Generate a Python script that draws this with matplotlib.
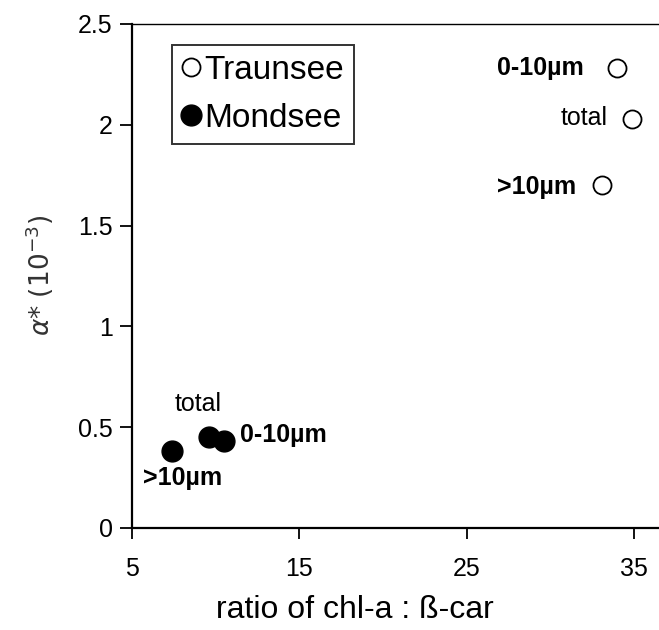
import matplotlib
matplotlib.use("Agg")
import matplotlib.pyplot as plt

plt.rcParams['font.family'] = ['Liberation Sans', 'DejaVu Sans']

# ---------------- data ----------------
labels = ["0-10µm", "total", ">10µm"]
label_bold = [True, False, True]

traunsee_x = [34.0, 34.9, 33.1]
traunsee_y = [2.28, 2.03, 1.70]

mondsee_x = [10.5, 9.6, 7.4]
mondsee_y = [0.43, 0.45, 0.38]

xticks = [5, 15, 25, 35]
yticks = [0, 0.5, 1, 1.5, 2, 2.5]
ytick_labels = ["0", "0.5", "1", "1.5", "2", "2.5"]

# label offsets in pixels (dx, dy, ha)
traunsee_offsets = [(-34, 0, 'right'), (-25, 1, 'right'), (-26, -2, 'right')]
mondsee_offsets = [(16, 6, 'left'), (-11, 33, 'center'), (10, -27, 'center')]

# ---------------- plot ----------------
fig = plt.figure(figsize=(6.59, 6.30), dpi=100)
ax = fig.add_axes([0.2003, 0.162, 0.80, 0.80])

ax.plot(traunsee_x, traunsee_y, 'o', ms=13, mfc='white', mec='black',
        mew=1.3, ls='none', label='Traunsee', clip_on=False)
ax.plot(mondsee_x, mondsee_y, 'o', ms=15, mfc='black', mec='black',
        ls='none', label='Mondsee', clip_on=False)

for x, y, lab, bold, off in zip(traunsee_x, traunsee_y, labels, label_bold, traunsee_offsets):
    ax.annotate(lab, (x, y), xytext=off[:2], textcoords='offset pixels',
                ha=off[2], va='center', fontsize=18,
                fontweight='bold' if bold else 'normal')

for x, y, lab, bold, off in zip(mondsee_x, mondsee_y, labels, label_bold, mondsee_offsets):
    ax.annotate(lab, (x, y), xytext=off[:2], textcoords='offset pixels',
                ha=off[2], va='center', fontsize=18,
                fontweight='bold' if bold else 'normal')

ax.set_xlim(5, 36.5)
ax.set_ylim(0, 2.5)
ax.set_xticks(xticks)
ax.set_yticks(yticks)
ax.set_yticklabels(ytick_labels)

ax.spines['right'].set_visible(False)
ax.spines['top'].set_linewidth(1.0)
ax.spines['left'].set_linewidth(1.6)
ax.spines['bottom'].set_linewidth(1.6)
ax.tick_params(axis='x', direction='out', length=8, width=1.3, labelsize=18, pad=13)
ax.tick_params(axis='y', direction='out', length=9, width=1.3, labelsize=18, pad=5)

ax.set_xlabel("ratio of chl-a : ß-car", fontsize=23)
ax.xaxis.set_label_coords(0.423, -0.133)
ax.set_ylabel(r"$\alpha$* (10$^{-3}$)", fontsize=19, color='#333333',
              family='DejaVu Sans', labelpad=16)

leg = ax.legend(loc='upper left', bbox_to_anchor=(0.076, 0.958), fontsize=24,
                frameon=True, fancybox=False, edgecolor='black',
                handletextpad=0.12, handlelength=0.55, borderpad=0.3,
                labelspacing=0.5, markerscale=1.0, borderaxespad=0)
leg.get_frame().set_linewidth(1.4)

plt.savefig("out.png", dpi=100)
